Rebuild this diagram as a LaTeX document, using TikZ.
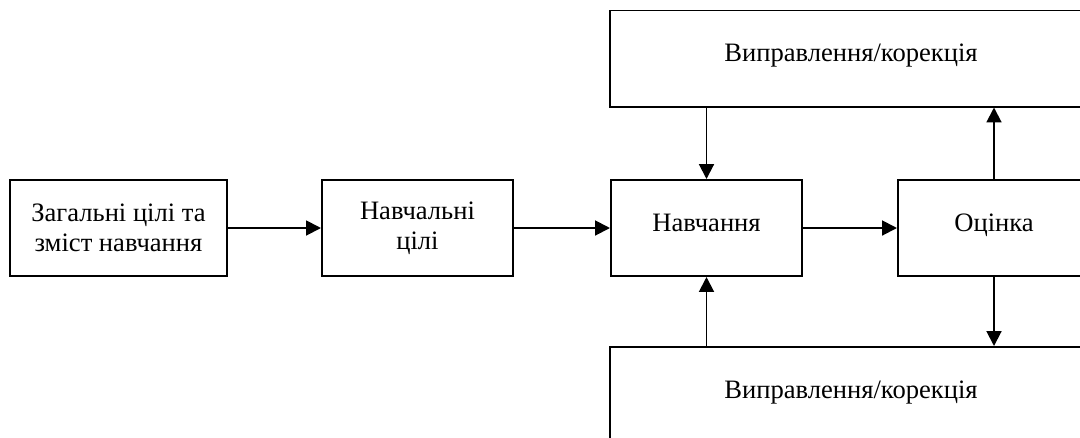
\documentclass[tikz,border=0pt]{standalone}
\usepackage{fontspec}
\setmainfont{Liberation Serif}
\usetikzlibrary{arrows.meta}

\tikzset{
  block/.style={draw, line width=1.4pt, minimum height=2.4cm, align=center,
    font=\fontsize{18.9}{21.3}\selectfont, inner sep=2pt},
  oneline/.style={block, text height=0.68em, text depth=0.22em},
  flow/.style={line width=1.4pt, -{Triangle[length=10.5pt,width=10.5pt]}}
}

\begin{document}
\begin{tikzpicture}[x=0.025cm,y=-0.025cm]
\useasboundingbox (0,0) rectangle (1080,437);

\node [block, minimum width=5.425cm] (goals) at (118.5,228) {Загальні цілі та\\зміст навчання};
\node [block, minimum width=4.775cm] (aims) at (417.5,228) {Навчальні\\цілі};
\node [oneline, minimum width=4.775cm] (learn) at (706.5,228) {Навчання};
\node [oneline, minimum width=4.8cm] (assess) at (994,228) {Оцінка};
\node [oneline, minimum width=12.05cm] (fixtop) at (851,58.5) {Виправлення/корекція};
\node [oneline, minimum width=12.05cm] (fixbot) at (851,395) {Виправлення/корекція};

\draw [flow] (goals) -- (aims);
\draw [flow] (aims) -- (learn);
\draw [flow] (learn) -- (assess);
\draw [flow] (learn.north |- fixtop.south) -- (learn.north);
\draw [flow] (assess.north) -- (assess.north |- fixtop.south);
\draw [flow] (learn.south |- fixbot.north) -- (learn.south);
\draw [flow] (assess.south) -- (assess.south |- fixbot.north);
\end{tikzpicture}
\end{document}
